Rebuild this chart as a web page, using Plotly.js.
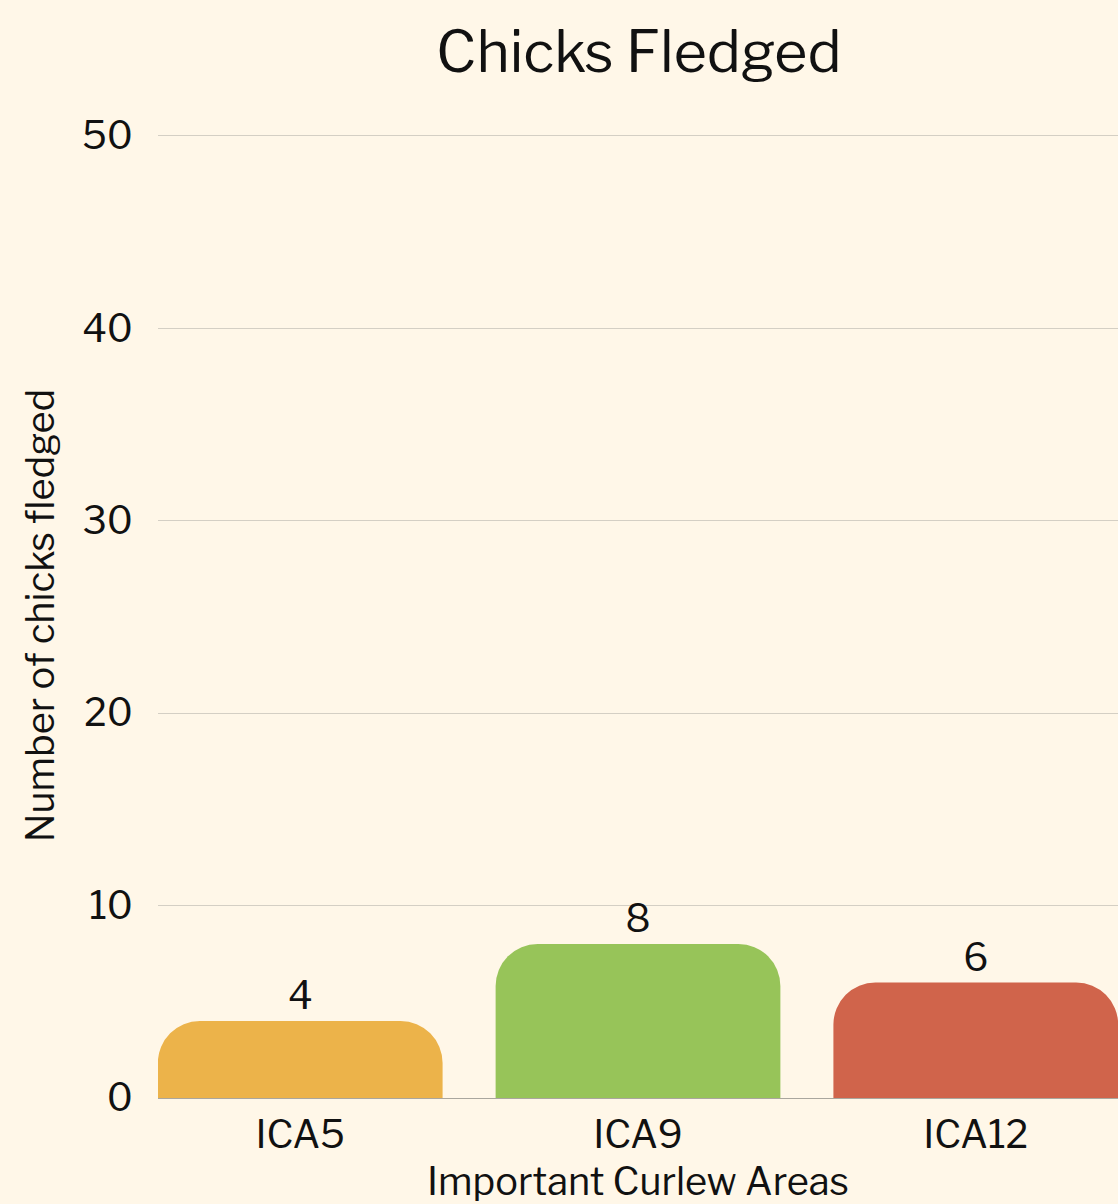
<!DOCTYPE html>
<html>
<head>
<meta charset="utf-8">
<script src="https://cdn.plot.ly/plotly-3.0.1.min.js"></script>
<style>html,body{margin:0;padding:0;background:#FFF7E8;}#chart{width:1118px;height:1204px;}</style>
</head>
<body>
<div id="chart"></div>
<script>
const categories = ["ICA5", "ICA9", "ICA12"];
const chicksFledged = [4, 8, 6];
const barColors = ["#ECB34A", "#97C459", "#D0644B"];
const yTickValues = [0, 10, 20, 30, 40, 50];
const xAxisTitle = "Important Curlew Areas";

const FONT = "'Libre Franklin', 'Open Sans', 'Noto Sans', sans-serif";

const trace = {
  type: "bar",
  x: categories,
  y: chicksFledged,
  marker: { color: barColors, cornerradius: 42 },
  text: chicksFledged.map(String),
  textposition: "outside",
  cliponaxis: false,
  textfont: { family: FONT, size: 38, color: "#111" },
  hoverinfo: "x+y"
};

const layout = {
  width: 1118,
  height: 1204,
  paper_bgcolor: "#FFF7E8",
  plot_bgcolor: "#FFF7E8",
  font: { family: FONT, color: "#111" },
  margin: { l: 158, r: 0, t: 133, b: 106 },
  bargap: 0.157,
  showlegend: false,
  title: {
    text: "Chicks Fledged",
    font: { family: FONT, size: 57, color: "#111" },
    x: 0.5714, xanchor: "center",
    y: 0.957, yanchor: "middle"
  },
  xaxis: {
    type: "category",
    range: [-0.421, 2.421],
    automargin: false,
    tickfont: { family: FONT, size: 38, color: "#111" },
    showgrid: false,
    showline: false,
    ticks: "",
    ticklabelstandoff: 11,
    zeroline: false
  },
  yaxis: {
    range: [0, 50.15],
    automargin: false,
    tickvals: yTickValues,
    ticktext: yTickValues.map(String),
    tickfont: { family: FONT, size: 38, color: "#111" },
    title: { text: "Number of chicks fledged", font: { family: FONT, size: 38, color: "#111" }, standoff: 15 },
    showgrid: true,
    gridcolor: "#D4CFC4",
    gridwidth: 1,
    zeroline: true,
    zerolinecolor: "#AAA69E",
    zerolinewidth: 1,
    ticks: "",
    ticklabelstandoff: 24
  },
  annotations: [{
    text: xAxisTitle,
    xref: "paper", yref: "paper",
    x: 0.5, y: -0.086,
    xanchor: "center", yanchor: "middle",
    showarrow: false,
    font: { family: FONT, size: 38, color: "#111" }
  }]
};

Plotly.newPlot("chart", [trace], layout, { displayModeBar: false, responsive: false });
</script>
</body>
</html>
